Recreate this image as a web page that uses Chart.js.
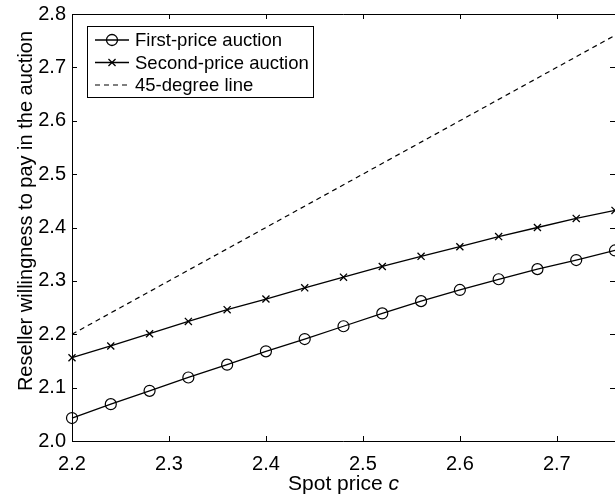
<!DOCTYPE html>
<html>
<head>
<meta charset="utf-8">
<script src="https://cdn.jsdelivr.net/npm/chart.js@4/dist/chart.umd.min.js"></script>
<style>
  html, body { margin: 0; padding: 0; background: #fff; overflow: hidden; width: 615px; height: 497px; }
  #wrap { position: relative; width: 615px; height: 497px; }
  canvas { display: block; }
</style>
</head>
<body>
<div id="wrap"><canvas id="auctionChart"></canvas></div>
<script>
const spotPrice = [2.20, 2.24, 2.28, 2.32, 2.36, 2.40, 2.44, 2.48, 2.52, 2.56, 2.60, 2.64, 2.68, 2.72, 2.76];
const firstPrice = [2.043, 2.069, 2.094, 2.119, 2.143, 2.168, 2.191, 2.215, 2.239, 2.262, 2.283, 2.303, 2.322, 2.339, 2.357];
const secondPrice = [2.156, 2.178, 2.201, 2.224, 2.246, 2.266, 2.287, 2.307, 2.327, 2.346, 2.364, 2.383, 2.400, 2.417, 2.432];
const diagonalX = [2.20, 2.76];
const diagonalY = [2.20, 2.76];
const seriesNames = ['First-price auction', 'Second-price auction', '45-degree line'];
const xTicks = [2.2, 2.3, 2.4, 2.5, 2.6, 2.7];
const yTicks = [2.0, 2.1, 2.2, 2.3, 2.4, 2.5, 2.6, 2.7, 2.8];

const FONT = '"Liberation Sans", Arial, Helvetica, sans-serif';
Chart.defaults.color = '#000';
Chart.defaults.font.family = FONT;

const toPoints = (xs, ys) => xs.map((x, i) => ({ x: x, y: ys[i] }));

// axes box (right side falls just off the picture) with inward ticks, axis titles, boxed legend
const matlabFrame = {
  id: 'matlabFrame',
  beforeDatasetsDraw(chart) {
    const { ctx, chartArea: a, scales: { x, y } } = chart;
    ctx.save();
    ctx.strokeStyle = '#000';
    ctx.lineWidth = 1;
    ctx.beginPath();
    ctx.moveTo(a.right, a.top + 0.5);
    ctx.lineTo(a.left + 0.5, a.top + 0.5);
    ctx.lineTo(a.left + 0.5, a.bottom + 0.5);
    ctx.lineTo(a.right, a.bottom + 0.5);
    x.ticks.forEach(t => {
      const px = Math.round(x.getPixelForValue(t.value)) + 0.5;
      ctx.moveTo(px, a.bottom); ctx.lineTo(px, a.bottom - 5);
      ctx.moveTo(px, a.top); ctx.lineTo(px, a.top + 5);
    });
    y.ticks.forEach(t => {
      const py = Math.round(y.getPixelForValue(t.value)) + 0.5;
      ctx.moveTo(a.left, py); ctx.lineTo(a.left + 5, py);
      ctx.moveTo(a.right, py); ctx.lineTo(a.right - 5, py);
    });
    ctx.stroke();
    ctx.restore();
  },
  afterDraw(chart) {
    const { ctx, chartArea: a } = chart;
    ctx.save();
    ctx.fillStyle = '#000';

    // y title
    ctx.save();
    ctx.translate(32, 211);
    ctx.rotate(-Math.PI / 2);
    ctx.font = '20px ' + FONT;
    ctx.textAlign = 'center';
    ctx.textBaseline = 'alphabetic';
    ctx.fillText('Reseller willingness to pay in the auction', 0, 0);
    ctx.restore();

    // x title with italic c
    ctx.font = '21px ' + FONT;
    const part1 = 'Spot price ';
    const w1 = ctx.measureText(part1).width;
    ctx.font = 'italic 21px ' + FONT;
    const w2 = ctx.measureText('c').width;
    const cx = (a.left + a.right) / 2;
    const sx = cx - (w1 + w2) / 2;
    ctx.textAlign = 'left';
    ctx.textBaseline = 'alphabetic';
    ctx.font = '21px ' + FONT;
    ctx.fillText(part1, sx, 490);
    ctx.font = 'italic 21px ' + FONT;
    ctx.fillText('c', sx + w1, 490);

    // legend
    const bx = 87, by = 26, bw = 226, bh = 71;
    ctx.fillStyle = '#fff';
    ctx.fillRect(bx, by, bw, bh);
    ctx.strokeStyle = '#000';
    ctx.lineWidth = 1;
    ctx.strokeRect(bx + 0.5, by + 0.5, bw, bh);
    ctx.font = '18.5px ' + FONT;
    ctx.textBaseline = 'middle';
    chart.data.datasets.forEach((ds, i) => {
      const ly = 40 + i * 22.5;
      ctx.save();
      ctx.strokeStyle = ds.borderColor;
      ctx.lineWidth = ds.borderWidth;
      ctx.setLineDash(ds.borderDash || []);
      ctx.beginPath();
      ctx.moveTo(95, ly); ctx.lineTo(129, ly);
      ctx.stroke();
      ctx.setLineDash([]);
      if (ds.pointRadius > 0) {
        ctx.fillStyle = 'rgba(0,0,0,0)';
        Chart.helpers.drawPoint(ctx, {
          pointStyle: ds.pointStyle, radius: ds.pointRadius,
          rotation: 0, borderWidth: ds.pointBorderWidth
        }, 112, ly);
      }
      ctx.restore();
      ctx.fillStyle = '#000';
      ctx.fillText(ds.label, 135, ly + 1);
    });
    ctx.restore();
  }
};

new Chart(document.getElementById('auctionChart'), {
  type: 'line',
  data: {
    datasets: [{
      label: seriesNames[0],
      data: toPoints(spotPrice, firstPrice),
      borderColor: '#000',
      borderWidth: 1.3,
      pointStyle: 'circle',
      pointRadius: 5.5,
      pointBorderWidth: 1.2,
      pointBorderColor: '#000',
      pointBackgroundColor: 'rgba(0,0,0,0)',
      clip: false
    }, {
      label: seriesNames[1],
      data: toPoints(spotPrice, secondPrice),
      borderColor: '#000',
      borderWidth: 1.3,
      pointStyle: 'crossRot',
      pointRadius: 5,
      pointBorderWidth: 1.3,
      pointBorderColor: '#000',
      clip: false
    }, {
      label: seriesNames[2],
      data: toPoints(diagonalX, diagonalY),
      borderColor: '#000',
      borderWidth: 1.2,
      borderDash: [5, 4],
      pointRadius: 0,
      clip: false
    }]
  },
  options: {
    responsive: true,
    maintainAspectRatio: false,
    animation: false,
    layout: { autoPadding: false, padding: { left: 0, top: 14, right: 0, bottom: 0 } },
    plugins: { legend: { display: false }, tooltip: { enabled: false } },
    elements: { line: { tension: 0 } },
    scales: {
      x: {
        type: 'linear',
        min: 2.2,
        max: 2.76,
        afterBuildTicks: scale => { scale.ticks = xTicks.map(v => ({ value: v })); },
        afterFit: scale => { scale.height = 56; scale.paddingLeft = 0; scale.paddingRight = 0; },
        border: { display: false },
        grid: { display: false, drawTicks: false },
        ticks: { font: { size: 20 }, padding: 11, callback: v => v.toFixed(1) }
      },
      y: {
        type: 'linear',
        min: 2.0,
        max: 2.8,
        afterBuildTicks: scale => { scale.ticks = yTicks.map(v => ({ value: v })); },
        afterFit: scale => { scale.width = 72; scale.paddingTop = 0; scale.paddingBottom = 0; },
        border: { display: false },
        grid: { display: false, drawTicks: false },
        ticks: { font: { size: 20 }, padding: 6, callback: v => v.toFixed(1) }
      }
    }
  },
  plugins: [matlabFrame]
});
</script>
</body>
</html>
